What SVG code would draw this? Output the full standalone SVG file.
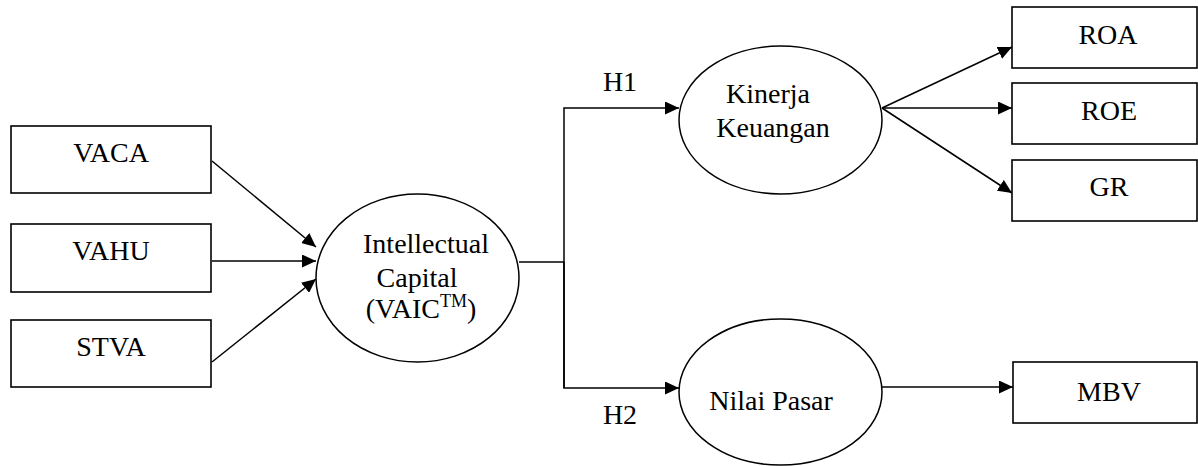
<svg xmlns="http://www.w3.org/2000/svg" width="1198" height="466" viewBox="0 0 1198 466">
<style>
.box{fill:#fff;stroke:#000;stroke-width:1.6}
.ell{fill:#fff;stroke:#000;stroke-width:1.5}
.t{font-family:"Liberation Serif","Times New Roman",serif;font-size:28px;fill:#000;text-anchor:middle}
.c{fill:none;stroke:#000;stroke-width:1.5}
</style>
<defs>
<marker id="ah" markerUnits="userSpaceOnUse" markerWidth="15" markerHeight="13" refX="14" refY="6.5" orient="auto">
<path d="M0,0 L14,6.5 L0,13 z" fill="#000"/>
</marker>
</defs>
<g id="connectors">
<line class="c" x1="212" y1="161" x2="316" y2="247" marker-end="url(#ah)"/>
<line class="c" x1="212" y1="261" x2="316" y2="261" marker-end="url(#ah)"/>
<line class="c" x1="212" y1="362" x2="316" y2="279" marker-end="url(#ah)"/>
<polyline class="c" points="519,262 564,262"/>
<polyline class="c" points="564,388 564,108 679,108" marker-end="url(#ah)"/>
<polyline class="c" points="564,262 564,388 679,388" marker-end="url(#ah)"/>
<line class="c" x1="882" y1="108" x2="1012" y2="47" marker-end="url(#ah)"/>
<line class="c" x1="882" y1="108" x2="1012" y2="108" marker-end="url(#ah)"/>
<line class="c" x1="882" y1="108" x2="1012" y2="193" marker-end="url(#ah)"/>
<line class="c" x1="882" y1="387" x2="1013" y2="387" marker-end="url(#ah)"/>
<text class="t" x="620" y="91">H1</text>
<text class="t" x="620" y="424">H2</text>
</g>
<g id="vaca"><rect class="box" x="11" y="126" width="200" height="67"/><text class="t" x="111" y="162">VACA</text></g>
<g id="vahu"><rect class="box" x="11" y="224" width="200" height="68"/><text class="t" x="111" y="260">VAHU</text></g>
<g id="stva"><rect class="box" x="11" y="320" width="200" height="67"/><text class="t" x="111" y="356">STVA</text></g>
<g id="ic"><ellipse class="ell" cx="417.5" cy="278" rx="101.5" ry="84"/>
<text class="t" x="426" y="253">Intellectual</text>
<text class="t" x="417" y="287">Capital</text>
<text class="t" x="421" y="318">(VAIC<tspan font-size="18" dy="-11">TM</tspan><tspan dy="11">)</tspan></text></g>
<g id="kinerja"><ellipse class="ell" cx="780.5" cy="120" rx="101.5" ry="74"/>
<text class="t" x="768" y="103">Kinerja</text>
<text class="t" x="773" y="137">Keuangan</text></g>
<g id="nilai"><ellipse class="ell" cx="780.5" cy="392" rx="101.5" ry="73"/>
<text class="t" x="771" y="410">Nilai Pasar</text></g>
<g id="roa"><rect class="box" x="1012" y="7" width="185" height="61"/><text class="t" x="1108" y="44">ROA</text></g>
<g id="roe"><rect class="box" x="1012" y="83" width="185" height="61"/><text class="t" x="1109" y="120">ROE</text></g>
<g id="gr"><rect class="box" x="1012" y="160" width="185" height="61"/><text class="t" x="1109" y="196">GR</text></g>
<g id="mbv"><rect class="box" x="1013" y="362" width="184" height="61"/><text class="t" x="1109" y="401">MBV</text></g>
</svg>
